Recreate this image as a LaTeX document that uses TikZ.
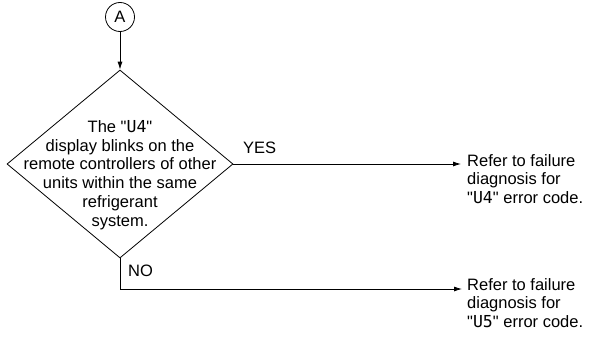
\documentclass[tikz,border=0pt]{standalone}
\usepackage{fontspec}
\setmainfont{Liberation Sans}[Ligatures=TeXOff]
\newfontfamily\segfont{DejaVu Sans Mono}
\usetikzlibrary{shapes.geometric,arrows.meta}
\newcommand{\qq}{"}
\begin{document}
\begin{tikzpicture}[x=1pt,y=-1pt,
  every node/.style={font=\fontsize{16.5}{18.8}\selectfont},
  conn/.style={line width=0.8pt,-{Latex[length=8pt,width=5pt]}},
  plain/.style={line width=0.8pt},
  txt/.style={align=center,inner sep=0pt},
  res/.style={align=left,inner sep=0pt,anchor=north west}]
\useasboundingbox (0,0) rectangle (599,340);
\node[circle,draw,line width=0.8pt,minimum size=29pt,inner sep=0pt] (A) at (120,17) {A};
\node[diamond,draw,line width=0.8pt,minimum width=226pt,minimum height=188pt,inner sep=0pt] (D) at (120,164) {};
\node[txt] (Dt) at (120,175) {The \qq{\segfont U4}\qq\\display blinks on the\\remote controllers of other\\units within the same\\refrigerant\\system.};
\draw[conn] (A) -- (D.north);
\node[res] (R1) at (467,154) {Refer to failure\\diagnosis for\\\qq{\segfont U4}\qq\ error code.};
\node[res] (R2) at (467,278) {Refer to failure\\diagnosis for\\\qq{\segfont U5}\qq\ error code.};
\coordinate (N) at (120,289);
\draw[conn,shorten >=6pt] (D.east) -- (D.east -| R1.west);
\draw[plain] (D.south) -- (N);
\draw[conn,shorten >=5pt] (N) -- (N -| R2.west);
\node[anchor=west,inner sep=0pt] (yes) at (243,148) {YES};
\node[anchor=west,inner sep=0pt] (no) at (128,271) {NO};
\end{tikzpicture}
\end{document}
